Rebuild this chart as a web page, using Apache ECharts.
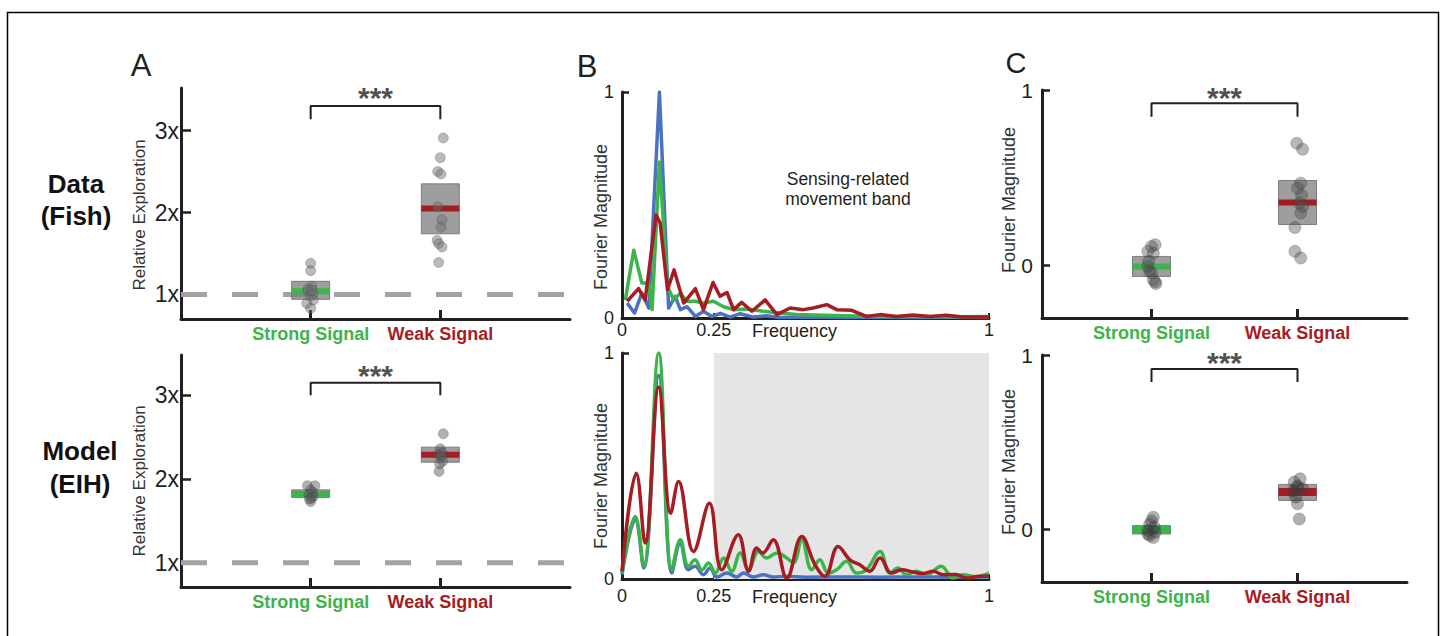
<!DOCTYPE html>
<html>
<head>
<meta charset="utf-8">
<script src="https://cdn.jsdelivr.net/npm/echarts@6/dist/echarts.min.js"></script>
<style>
  html, body { margin: 0; padding: 0; background: #fff; }
  #chart { width: 1445px; height: 636px; }
</style>
</head>
<body>
<div id="chart"></div>
<script>
// ---- data ----
const groups = ['Strong Signal', 'Weak Signal'];
const expTicks = [1, 2, 3];          // "1x", "2x", "3x"
const magTicks = [0, 1];
const freqTicks = [0, 0.25, 1];

// A: relative exploration (fish / model), x jitter in axis units
const fishStrong = [1.38, 1.29, 1.10, 1.07, 1.04, 1.01, 0.98, 0.93, 0.89, 0.83, 1.05];
const fishStrongJit = [0.0, 0.0, 0.01, -0.02, -0.02, 0.02, 0.0, 0.02, -0.03, 0.0, 0.01];
const fishWeak = [2.91, 2.67, 2.50, 2.47, 2.07, 1.91, 1.82, 1.66, 1.62, 1.58, 1.39];
const fishWeakJit = [0.023, 0.0, -0.02, 0.005, -0.02, 0.013, 0.005, -0.025, -0.013, 0.013, -0.013];
const fishBox = [[1, 0.94, 1.16, 1.04], [2, 1.74, 2.35, 2.05]];   // [x, q1, q3, mean]

const modelStrong = [1.92, 1.92, 1.87, 1.84, 1.81, 1.79, 1.77, 1.76, 1.73];
const modelStrongJit = [-0.025, 0.033, 0.0, 0.013, -0.013, 0.02, 0.005, -0.01, 0.0];
const modelWeak = [2.54, 2.36, 2.31, 2.29, 2.27, 2.21, 2.18, 2.09];
const modelWeakJit = [0.023, 0.0, 0.015, -0.018, 0.01, 0.018, -0.005, -0.01];
const modelBox = [[1, 1.78, 1.87, 1.82], [2, 2.20, 2.38, 2.29]];

// B: Fourier spectra [frequency, magnitude]
const fishBlue = [[0.014,0.066],[0.034,0.022],[0.054,0.11],[0.073,0.044],[0.102,1.0],[0.127,0.044],[0.145,0.096],[0.159,0.037],[0.177,0.05],[0.2,0.007],[0.222,0.03],[0.245,0.007],[0.268,0.02],[0.295,0.004],[0.322,0.019],[0.358,0.004],[0.394,0.01],[0.43,0.002],[0.5,0.004],[0.6,0.002],[0.7,0.003],[0.8,0.002],[0.9,0.003],[1.0,0.002]];
const fishGreen = [[0.009,0.08],[0.032,0.30],[0.054,0.155],[0.073,0.155],[0.082,0.037],[0.102,0.69],[0.124,0.14],[0.141,0.08],[0.159,0.11],[0.177,0.074],[0.2,0.074],[0.222,0.066],[0.249,0.074],[0.277,0.05],[0.304,0.037],[0.34,0.04],[0.385,0.03],[0.43,0.022],[0.476,0.015],[0.52,0.013],[0.61,0.01],[0.7,0.007],[0.79,0.007],[0.9,0.006],[1.0,0.007]];
const fishRed = [[0.014,0.074],[0.045,0.13],[0.063,0.08],[0.093,0.456],[0.104,0.42],[0.124,0.125],[0.142,0.213],[0.168,0.066],[0.2,0.13],[0.222,0.037],[0.248,0.157],[0.267,0.096],[0.286,0.113],[0.304,0.037],[0.326,0.069],[0.354,0.03],[0.39,0.08],[0.422,0.015],[0.458,0.044],[0.494,0.037],[0.521,0.044],[0.558,0.059],[0.585,0.037],[0.626,0.034],[0.666,0.007],[0.703,0.015],[0.748,0.007],[0.793,0.013],[0.839,0.007],[0.884,0.012],[0.929,0.004],[1.0,0.004]];

const modelBlue = [[0,0.019],[0.036,0.262],[0.059,0.049],[0.1,0.90],[0.136,0.026],[0.159,0.159],[0.181,0.041],[0.199,0.056],[0.222,0.019],[0.24,0.049],[0.258,0.009],[0.286,0.026],[0.313,0.009],[0.331,0.026],[0.358,0.009],[0.385,0.019],[0.412,0.009],[0.449,0.012],[0.5,0.008],[0.6,0.009],[0.7,0.008],[0.8,0.009],[0.9,0.008],[1.0,0.009]];
const modelGreen = [[0,0.026],[0.036,0.276],[0.059,0.056],[0.1,1.0],[0.136,0.041],[0.159,0.174],[0.181,0.056],[0.199,0.085],[0.218,0.041],[0.236,0.071],[0.254,0.026],[0.277,0.093],[0.299,0.034],[0.322,0.115],[0.345,0.041],[0.372,0.122],[0.394,0.093],[0.422,0.115],[0.449,0.093],[0.467,0.071],[0.49,0.174],[0.517,0.041],[0.539,0.085],[0.562,0.026],[0.585,0.041],[0.612,0.078],[0.639,0.026],[0.666,0.041],[0.703,0.122],[0.73,0.026],[0.752,0.049],[0.775,0.019],[0.802,0.034],[0.83,0.019],[0.87,0.056],[0.902,0.004],[0.929,0.019],[0.965,0.01],[1.0,0.026]];
const modelRed = [[0,0.034],[0.039,0.468],[0.063,0.159],[0.1,0.85],[0.133,0.291],[0.154,0.431],[0.195,0.122],[0.238,0.335],[0.272,0.041],[0.317,0.196],[0.345,0.034],[0.367,0.137],[0.383,0.115],[0.412,0.174],[0.449,0.004],[0.49,0.188],[0.526,0.063],[0.553,0.012],[0.589,0.144],[0.621,0.085],[0.648,0.063],[0.675,0.034],[0.703,0.093],[0.734,0.026],[0.762,0.041],[0.793,0.031],[0.82,0.024],[0.848,0.034],[0.875,0.019],[0.91,0.02],[0.938,0.004],[0.975,0.012],[1.0,0.012]];
const band = [0.25, 1];

// C: band magnitude per animal / model run
const bandFishStrong = [0.118, 0.108, 0.08, 0.07, 0.023, -0.006, -0.034, -0.044, -0.082, -0.095, -0.104];
const bandFishStrongJit = [0.01, 0.0, -0.01, 0.005, -0.008, -0.01, -0.005, 0.0, 0.005, 0.01, 0.012];
const bandFishWeak = [0.696, 0.662, 0.469, 0.44, 0.40, 0.355, 0.336, 0.298, 0.216, 0.08, 0.042];
const bandFishWeakJit = [-0.002, 0.014, 0.009, 0.0, 0.011, 0.005, 0.014, 0.009, -0.007, -0.007, 0.009];
const bandFishBox = [[0.3, -0.063, 0.051, -0.006], [0.7, 0.233, 0.484, 0.359]];

const bandModelStrong = [0.071, 0.05, 0.03, 0.013, -0.005, -0.015, -0.025, -0.034, -0.045];
const bandModelStrongJit = [0.005, 0.0, -0.005, 0.008, -0.01, 0.01, -0.01, -0.005, 0.005];
const bandModelWeak = [0.291, 0.272, 0.25, 0.243, 0.234, 0.22, 0.186, 0.148, 0.061];
const bandModelWeakJit = [0.007, -0.009, 0.0, 0.0, 0.014, -0.012, -0.005, 0.0, 0.005];
const bandModelBox = [[0.3, -0.025, 0.023, -0.002], [0.7, 0.167, 0.259, 0.215]];

// ---- styling ----
const FONT = '"Liberation Sans", Arial, sans-serif';
const INK = '#231f20';
const GREEN = '#3cb44b';
const RED = '#a61c23';
const BLUE = '#4a72c0';

const pts = (vals, jit, x) => vals.map((v, i) => [x + jit[i], v]);

function catXAxis(gridIndex, max, pos) {
  return {
    type: 'value', gridIndex, min: 0, max,
    axisLine: { show: true, onZero: false, lineStyle: { color: INK, width: 3 } },
    axisTick: { show: true, inside: true, length: 9, customValues: pos, lineStyle: { color: INK, width: 3 } },
    axisLabel: {
      customValues: pos, margin: 6,
      formatter: v => (Math.abs(v - pos[0]) < 1e-6 ? '{s|' + groups[0] + '}' : '{w|' + groups[1] + '}'),
      rich: {
        s: { color: GREEN, fontWeight: 'bold', fontSize: 18, fontFamily: FONT },
        w: { color: RED, fontWeight: 'bold', fontSize: 18, fontFamily: FONT }
      }
    },
    splitLine: { show: false }
  };
}

function valYAxis(gridIndex, min, max, ticks, fmt, size, margin, tickLen) {
  return {
    type: 'value', gridIndex, min, max,
    axisLine: { show: true, onZero: false, lineStyle: { color: INK, width: 3 } },
    axisTick: { show: true, inside: true, length: tickLen, customValues: ticks, lineStyle: { color: INK, width: 2.5 } },
    axisLabel: { customValues: ticks, formatter: fmt, fontSize: size, color: INK, fontFamily: FONT, margin },
    splitLine: { show: false }
  };
}

function freqXAxis(gridIndex, gap) {
  return {
    type: 'value', gridIndex, min: 0, max: 1,
    name: 'Frequency', nameLocation: 'middle', nameGap: gap, nameMoveOverlap: false,
    nameTextStyle: { fontSize: 18, color: INK, fontFamily: FONT, padding: [0, 22, 0, 0] },
    axisLine: { show: true, onZero: false, lineStyle: { color: INK, width: 3 } },
    axisTick: { show: true, inside: true, length: 5, customValues: freqTicks, lineStyle: { color: INK, width: 2 } },
    axisLabel: { customValues: freqTicks, formatter: v => String(v), fontSize: 18, color: INK, fontFamily: FONT, margin: gap - 1 },
    splitLine: { show: false }
  };
}

function boxSeries(idx, data, halfW, lineH) {
  return {
    type: 'custom', xAxisIndex: idx, yAxisIndex: idx, data, z: 3, silent: true,
    encode: { x: 0, y: [1, 2, 3] },
    renderItem: (params, api) => {
      const x = api.value(0);
      const lo = api.coord([x, api.value(1)]);
      const hi = api.coord([x, api.value(2)]);
      const m = api.coord([x, api.value(3)]);
      return {
        type: 'group',
        children: [
          { type: 'rect', shape: { x: lo[0] - halfW, y: hi[1], width: halfW * 2, height: lo[1] - hi[1] },
            style: { fill: 'rgba(120,120,122,0.72)', stroke: 'rgba(105,105,108,0.8)', lineWidth: 1 } },
          { type: 'rect', shape: { x: m[0] - halfW, y: m[1] - lineH / 2, width: halfW * 2, height: lineH },
            style: { fill: params.dataIndex === 0 ? GREEN : RED } }
        ]
      };
    }
  };
}

function dotSeries(idx, data, size, color) {
  return {
    type: 'scatter', xAxisIndex: idx, yAxisIndex: idx, data, symbolSize: size, z: 4, silent: true,
    itemStyle: { color, borderColor: 'rgba(60,60,60,0.35)', borderWidth: 1 }
  };
}

function bracketSeries(idx, x1, x2, lo, hi, starY) {
  return [
    { type: 'line', xAxisIndex: idx, yAxisIndex: idx, data: [[x1, lo], [x1, hi], [x2, hi], [x2, lo]],
      symbol: 'none', silent: true, z: 5, lineStyle: { color: INK, width: 2 } },
    { type: 'scatter', xAxisIndex: idx, yAxisIndex: idx, data: [[(x1 + x2) / 2, starY]], symbolSize: 1, silent: true,
      itemStyle: { color: 'rgba(0,0,0,0)' },
      label: { show: true, position: 'inside', formatter: '***', fontSize: 30, fontWeight: 'bold', color: INK, fontFamily: FONT } }
  ];
}

function dashSeries(idx) {
  return { type: 'line', xAxisIndex: idx, yAxisIndex: idx, data: [[0, 1], [3, 1]], symbol: 'none', silent: true, z: 1,
    lineStyle: { color: '#a3a3a6', width: 5, type: [26, 25], cap: 'butt' } };
}

function specSeries(idx, data, color, smooth) {
  return { type: 'line', xAxisIndex: idx, yAxisIndex: idx, data, symbol: 'none', smooth, silent: true, z: 3,
    lineStyle: { color, width: 3.5, join: 'round' } };
}

function text(x, y, str, size) {
  return { type: 'text', x, y, silent: true,
    style: { text: str, fontSize: size, fontFamily: FONT, fill: INK, align: 'center', verticalAlign: 'middle' } };
}
function vtext(x, y, str, size) {
  return { type: 'text', x, y, rotation: Math.PI / 2, silent: true,
    style: { text: str, fontSize: size, fontFamily: FONT, fill: '#333', align: 'center', verticalAlign: 'middle' } };
}
function boldText(x, y, str) {
  return { type: 'text', x, y, silent: true,
    style: { text: str, fontSize: 26, fontWeight: 'bold', fontFamily: FONT, fill: '#111', align: 'center', verticalAlign: 'middle' } };
}

const chart = echarts.init(document.getElementById('chart'), null, { renderer: 'svg' });

const option = {
  backgroundColor: '#fff',
  animation: false,
  grid: [
    { left: 181, top: 88, width: 389, height: 231 },
    { left: 181, top: 355, width: 389, height: 232 },
    { left: 622, top: 92, width: 367, height: 226 },
    { left: 622, top: 353, width: 367, height: 226 },
    { left: 1042, top: 90, width: 365, height: 228 },
    { left: 1042, top: 355, width: 365, height: 227 }
  ],
  xAxis: [
    catXAxis(0, 3, [1, 2]),
    catXAxis(1, 3, [1, 2]),
    freqXAxis(2, 4),
    freqXAxis(3, 9),
    catXAxis(4, 1, [0.3, 0.7]),
    catXAxis(5, 1, [0.3, 0.7])
  ],
  yAxis: [
    valYAxis(0, 0.7, 3.52, expTicks, '{value}x', 23, 2, 10),
    valYAxis(1, 0.71, 3.48, expTicks, '{value}x', 23, 2, 10),
    valYAxis(2, 0, 1, magTicks, '{value}', 18, 8, 7),
    valYAxis(3, 0, 1, magTicks, '{value}', 18, 8, 7),
    valYAxis(4, -0.3, 1, magTicks, '{value}', 21, 9, 8),
    valYAxis(5, -0.3, 1, magTicks, '{value}', 21, 9, 8)
  ],
  series: [
    // A top
    dashSeries(0),
    boxSeries(0, fishBox, 19, 6),
    dotSeries(0, pts(fishStrong, fishStrongJit, 1), 10, 'rgba(110,110,112,0.6)'),
    dotSeries(0, pts(fishWeak, fishWeakJit, 2), 10, 'rgba(110,110,112,0.6)'),
    ...bracketSeries(0, 1, 2, 3.14, 3.30, 3.40),
    // A bottom
    dashSeries(1),
    boxSeries(1, modelBox, 19, 6),
    dotSeries(1, pts(modelStrong, modelStrongJit, 1), 10, 'rgba(90,90,92,0.6)'),
    dotSeries(1, pts(modelWeak, modelWeakJit, 2), 10, 'rgba(90,90,92,0.6)'),
    ...bracketSeries(1, 1, 2, 3.0, 3.15, 3.24),
    // B top
    specSeries(2, fishBlue, BLUE, false),
    specSeries(2, fishGreen, GREEN, false),
    specSeries(2, fishRed, RED, false),
    // B bottom
    Object.assign(specSeries(3, modelBlue, BLUE, 0.4), {
      markArea: { silent: true, itemStyle: { color: '#e5e5e6' }, data: [[{ xAxis: band[0], yAxis: 0 }, { xAxis: band[1], yAxis: 1 }]] }
    }),
    specSeries(3, modelGreen, GREEN, 0.4),
    specSeries(3, modelRed, RED, 0.4),
    // C top
    boxSeries(4, bandFishBox, 19, 6),
    dotSeries(4, pts(bandFishStrong, bandFishStrongJit, 0.3), 12, 'rgba(75,75,78,0.5)'),
    dotSeries(4, pts(bandFishWeak, bandFishWeakJit, 0.7), 12, 'rgba(75,75,78,0.5)'),
    ...bracketSeries(4, 0.3, 0.7, 0.848, 0.924, 0.96),
    // C bottom
    boxSeries(5, bandModelBox, 19, 8),
    dotSeries(5, pts(bandModelStrong, bandModelStrongJit, 0.3), 12, 'rgba(60,60,62,0.5)'),
    dotSeries(5, pts(bandModelWeak, bandModelWeakJit, 0.7), 12, 'rgba(60,60,62,0.5)'),
    ...bracketSeries(5, 0.3, 0.7, 0.846, 0.92, 0.955)
  ],
  graphic: [
    { type: 'rect', silent: true, shape: { x: 7.5, y: 12.5, width: 1431, height: 700 },
      style: { fill: 'none', stroke: '#000', lineWidth: 1.5 } },
    text(141, 65, 'A', 31),
    text(587, 66, 'B', 31),
    text(1016, 63, 'C', 29),
    boldText(76, 184, 'Data'),
    boldText(76, 216, '(Fish)'),
    boldText(80, 451, 'Model'),
    boldText(80, 484, '(EIH)'),
    vtext(139, 215, 'Relative Exploration', 17),
    vtext(139, 481, 'Relative Exploration', 17),
    vtext(601, 217, 'Fourier Magnitude', 18),
    vtext(601, 476, 'Fourier Magnitude', 18),
    vtext(1009, 200, 'Fourier Magnitude', 18),
    vtext(1009, 462, 'Fourier Magnitude', 18),
    text(848, 179, 'Sensing-related', 17.5),
    text(848, 199, 'movement band', 17.5),
    text(850, 433, 'Sensing-related', 17.5),
    text(850, 454, 'movement band', 17.5)
  ]
};

chart.setOption(option);
window.addEventListener('resize', () => chart.resize());
</script>
</body>
</html>
